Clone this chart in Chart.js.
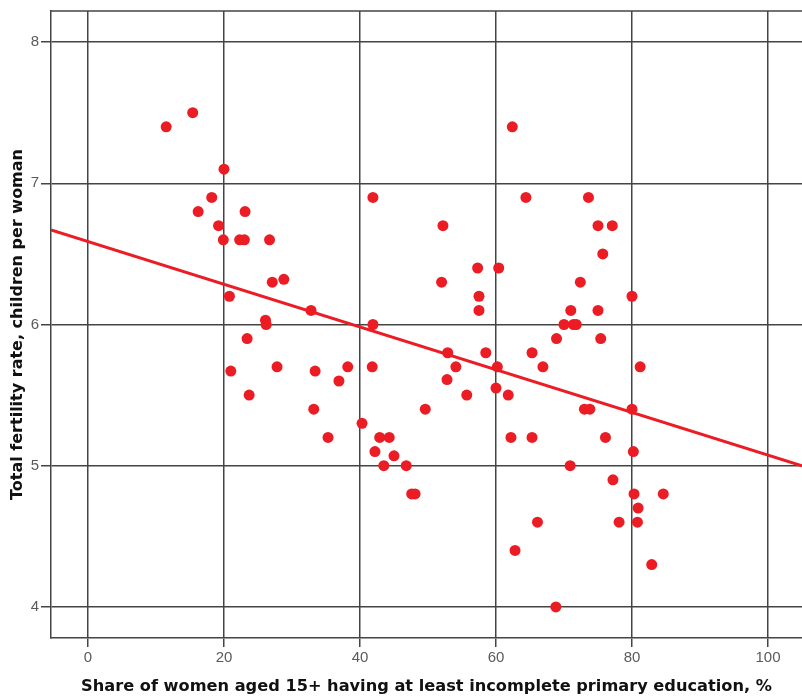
<!DOCTYPE html>
<html>
<head>
<meta charset="utf-8">
<script src="https://cdn.jsdelivr.net/npm/chart.js@4.4.0/dist/chart.umd.min.js"></script>
<style>
  html, body { margin: 0; padding: 0; background: #fff; }
  #wrap { width: 802px; height: 698px; }
</style>
</head>
<body>
<div id="wrap"><canvas id="scatterChart" width="802" height="698"></canvas></div>
<script>
// Datos
const eduShare = [
    11.5, 15.4, 16.2, 18.2, 20.0, 19.2, 19.9, 22.3, 23.0, 23.1, 26.7, 20.8, 27.1, 28.8, 26.1, 26.2,
    23.4, 21.0, 23.7, 27.8, 32.8, 33.4, 33.2, 35.3, 36.9, 38.2, 40.3, 41.9, 41.9, 41.8, 42.2, 42.9,
    44.3, 43.5, 45.0, 46.8, 47.6, 48.1, 49.6,
    62.4, 64.4, 73.6, 52.2, 75.0, 77.1, 75.7, 57.3, 60.4, 52.0, 72.4, 57.5, 80.0, 57.5, 71.0, 75.0,
    70.0, 71.4, 71.8, 68.9, 75.4, 52.9, 58.5, 65.3, 54.1, 60.2, 66.9, 81.2, 52.8, 60.0, 55.7, 61.8,
    73.0, 73.8, 80.0, 62.2, 65.3, 76.1, 80.2, 70.9, 77.2, 80.3, 84.6, 80.9, 66.1, 78.1, 80.8, 62.8,
    82.9, 68.8
];
const fertility = [
    7.4, 7.5, 6.8, 6.9, 7.1, 6.7, 6.6, 6.6, 6.6, 6.8, 6.6, 6.2, 6.3, 6.32, 6.03, 6.0,
    5.9, 5.67, 5.5, 5.7, 6.1, 5.67, 5.4, 5.2, 5.6, 5.7, 5.3, 6.9, 6.0, 5.7, 5.1, 5.2,
    5.2, 5.0, 5.07, 5.0, 4.8, 4.8, 5.4,
    7.4, 6.9, 6.9, 6.7, 6.7, 6.7, 6.5, 6.4, 6.4, 6.3, 6.3, 6.2, 6.2, 6.1, 6.1, 6.1,
    6.0, 6.0, 6.0, 5.9, 5.9, 5.8, 5.8, 5.8, 5.7, 5.7, 5.7, 5.7, 5.61, 5.55, 5.5, 5.5,
    5.4, 5.4, 5.4, 5.2, 5.2, 5.2, 5.1, 5.0, 4.9, 4.8, 4.8, 4.7, 4.6, 4.6, 4.6, 4.4,
    4.3, 4.0
];

// Recta de ajuste (extremos)
const fitX = [-5.44, 105];
const fitY = [6.67, 5.0];

// Ticks de los ejes
const xTicks = [0, 20, 40, 60, 80, 100];
const yTicks = [4, 5, 6, 7, 8];
const xRange = [-5.44, 105];
const yRange = [3.78, 8.22];

const rojo = '#ec1c24';
const gris = '#444444';

// Marco superior del área del gráfico
const marcoPlugin = {
    id: 'marco',
    afterDraw(chart) {
        const { ctx, chartArea } = chart;
        ctx.save();
        ctx.strokeStyle = gris;
        ctx.lineWidth = 1.5;
        ctx.beginPath();
        ctx.moveTo(chartArea.left, chartArea.top);
        ctx.lineTo(chartArea.right, chartArea.top);
        ctx.stroke();
        ctx.restore();
    }
};

const inicializarGrafico = () => {
    const ctx = document.getElementById('scatterChart');
    new Chart(ctx, {
        type: 'scatter',
        data: {
            datasets: [
                {
                    type: 'line',
                    data: fitX.map((x, i) => ({ x: x, y: fitY[i] })),
                    borderColor: rojo,
                    borderWidth: 3,
                    pointRadius: 0,
                    fill: false,
                    order: 0
                },
                {
                    data: eduShare.map((x, i) => ({ x: x, y: fertility[i] })),
                    backgroundColor: rojo,
                    borderColor: rojo,
                    borderWidth: 0,
                    pointRadius: 5.5,
                    order: 1
                }
            ]
        },
        options: {
            responsive: false,
            animation: false,
            devicePixelRatio: 1,
            layout: { autoPadding: false, padding: { top: 11, right: 0, left: 0, bottom: 0 } },
            plugins: {
                legend: { display: false },
                tooltip: { enabled: false }
            },
            scales: {
                x: {
                    type: 'linear',
                    min: xRange[0],
                    max: xRange[1],
                    afterBuildTicks: (scale) => { scale.ticks = xTicks.map(v => ({ value: v })); },
                    afterFit: (scale) => {
                        scale.height = 60;
                        scale.paddingLeft = 0;
                        scale.paddingRight = 0;
                    },
                    grid: { color: gris, lineWidth: 1.5, tickLength: 9 },
                    border: { color: gris, width: 1.5 },
                    ticks: {
                        color: '#5a5a5a',
                        font: { family: 'Liberation Sans', size: 15 },
                        padding: 2,
                        maxRotation: 0
                    },
                    title: {
                        display: true,
                        text: 'Share of women aged 15+ having at least incomplete primary education, %',
                        color: '#111',
                        font: { family: 'DejaVu Sans', size: 16.2, weight: 'bold' },
                        padding: { top: 0, bottom: 1 }
                    }
                },
                y: {
                    type: 'linear',
                    min: yRange[0],
                    max: yRange[1],
                    afterBuildTicks: (scale) => { scale.ticks = yTicks.map(v => ({ value: v })); },
                    afterFit: (scale) => { scale.width = 51; },
                    grid: { color: gris, lineWidth: 1.5, tickLength: 10 },
                    border: { color: gris, width: 1.5 },
                    ticks: {
                        color: '#5a5a5a',
                        font: { family: 'Liberation Sans', size: 15 },
                        padding: 2
                    },
                    title: {
                        display: true,
                        text: 'Total fertility rate, children per woman',
                        color: '#111',
                        font: { family: 'DejaVu Sans', size: 16, weight: 'bold' },
                        padding: { top: 8, bottom: 0 }
                    }
                }
            }
        },
        plugins: [marcoPlugin]
    });
};

inicializarGrafico();
</script>
</body>
</html>
